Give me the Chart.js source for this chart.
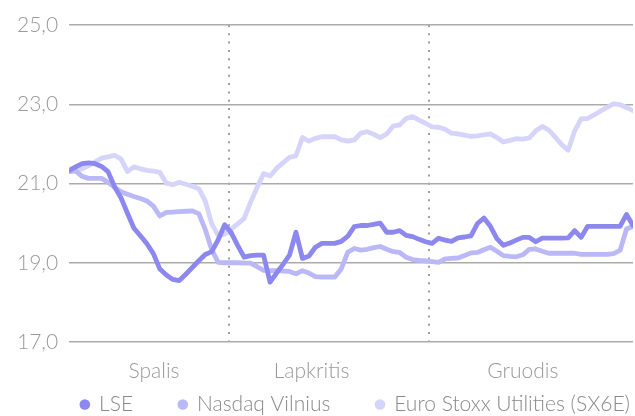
<!DOCTYPE html>
<html>
<head>
<meta charset="utf-8">
<script src="https://cdn.jsdelivr.net/npm/chart.js@4/dist/chart.umd.min.js"></script>
<style>
  html, body { margin: 0; padding: 0; background: #ffffff; }
  #wrap { width: 635px; height: 416px; position: relative; }
</style>
</head>
<body>
<div id="wrap"><canvas id="c"></canvas></div>
<script>
// Series values (one point per trading day)
const lse = [21.33,21.42,21.50,21.52,21.50,21.43,21.30,20.92,20.64,20.25,19.87,19.68,19.48,19.23,18.84,18.69,18.58,18.55,18.71,18.88,19.05,19.21,19.28,19.58,19.96,19.76,19.44,19.14,19.18,19.19,19.19,18.51,18.74,18.96,19.19,19.77,19.11,19.17,19.39,19.49,19.49,19.49,19.54,19.67,19.91,19.94,19.94,19.97,20.00,19.77,19.77,19.81,19.69,19.66,19.59,19.53,19.49,19.62,19.57,19.54,19.63,19.65,19.68,19.99,20.13,19.92,19.61,19.44,19.50,19.57,19.64,19.64,19.53,19.62,19.62,19.62,19.62,19.63,19.81,19.64,19.92,19.92,19.92,19.92,19.92,19.92,20.22,19.94];
const nasdaq = [21.30,21.32,21.18,21.13,21.13,21.13,21.03,20.91,20.79,20.73,20.67,20.62,20.56,20.43,20.18,20.27,20.28,20.29,20.30,20.31,20.24,19.84,19.33,19.01,19.00,19.00,19.00,18.99,18.99,18.90,18.81,18.80,18.80,18.79,18.78,18.72,18.80,18.74,18.65,18.64,18.64,18.64,18.85,19.27,19.36,19.32,19.34,19.38,19.41,19.34,19.28,19.26,19.14,19.08,19.06,19.05,19.03,19.01,19.10,19.11,19.12,19.18,19.25,19.26,19.33,19.39,19.29,19.18,19.16,19.15,19.20,19.34,19.35,19.29,19.24,19.24,19.24,19.24,19.24,19.21,19.21,19.21,19.21,19.21,19.23,19.31,19.85,19.92];
const euro = [21.30,21.33,21.37,21.45,21.54,21.64,21.67,21.71,21.62,21.30,21.42,21.37,21.33,21.31,21.28,21.01,20.97,21.03,20.98,20.93,20.87,20.56,19.98,19.69,19.72,19.85,19.98,20.12,20.53,20.90,21.25,21.19,21.38,21.52,21.66,21.70,22.16,22.07,22.14,22.18,22.18,22.18,22.10,22.07,22.10,22.27,22.31,22.24,22.16,22.25,22.45,22.48,22.64,22.69,22.60,22.52,22.43,22.42,22.37,22.27,22.25,22.22,22.19,22.20,22.23,22.25,22.16,22.05,22.09,22.13,22.12,22.15,22.33,22.44,22.35,22.17,21.98,21.84,22.33,22.63,22.64,22.73,22.83,22.92,23.01,22.99,22.92,22.84];

const seriesNames = ['LSE', 'Nasdaq Vilnius', 'Euro Stoxx Utilities (SX6E)'];
const monthLabels = ['Spalis', 'Lapkritis', 'Gruodis'];
// month label positions and month boundaries, in trading-day index units
const monthLabelAt = [13.1, 37.4, 70];
const monthBoundaryAt = [24.6, 55.5];
const yTicks = [17, 19, 21, 23, 25];

const colors = ['#8c88ef', '#bbb8f8', '#d6d4fb'];
const allSeries = [lse, nasdaq, euro];
const lastIndex = lse.length - 1;

const datasets = allSeries.map((s, k) => ({
  label: seriesNames[k],
  data: s.map((v, i) => ({ x: i, y: v })),
  borderColor: colors[k],
  backgroundColor: colors[k],
  borderWidth: 4.8,
  pointRadius: 0,
  pointHoverRadius: 0,
  tension: 0,
  borderJoinStyle: 'round',
  borderCapStyle: 'round',
  fill: false,
  xAxisID: 'x',
  yAxisID: 'y'
}));

const FONT = "'Lato', 'DejaVu Sans', sans-serif";
const GAP = '\u2003\u2003  ';

new Chart(document.getElementById('c'), {
  type: 'line',
  data: { datasets },
  options: {
    responsive: true,
    maintainAspectRatio: false,
    animation: false,
    devicePixelRatio: 1,
    layout: { padding: { top: 25, right: 2, left: 6, bottom: -9 } },
    plugins: {
      tooltip: { enabled: false },
      legend: {
        position: 'bottom',
        align: 'end',
        labels: {
          usePointStyle: true,
          pointStyle: 'circle',
          boxWidth: 7.5,
          boxHeight: 7.5,
          padding: 3,
          color: '#8a8a8a',
          font: { family: FONT, size: 21, weight: '300' },
          generateLabels: (chart) => {
            const items = Chart.defaults.plugins.legend.labels.generateLabels(chart);
            items.forEach((it, i) => {
              it.lineWidth = 0;
              it.strokeStyle = 'rgba(0,0,0,0)';
              if (i < items.length - 1) it.text = it.text + GAP;
            });
            return items;
          }
        }
      }
    },
    scales: {
      x: {
        type: 'linear',
        min: 0,
        max: lastIndex,
        position: 'bottom',
        afterBuildTicks: (scale) => { scale.ticks = monthLabelAt.map(v => ({ value: v })); },
        afterFit: (scale) => { scale.height = 49; },
        ticks: {
          autoSkip: false,
          maxRotation: 0,
          padding: 17,
          color: '#9a9a9a',
          font: { family: FONT, size: 21, weight: '300' },
          callback: (value, index) => monthLabels[index]
        },
        grid: { display: false, drawTicks: false },
        border: { display: false }
      },
      xs: {
        type: 'linear',
        min: 0,
        max: lastIndex,
        position: 'bottom',
        afterBuildTicks: (scale) => { scale.ticks = monthBoundaryAt.map(v => ({ value: v })); },
        afterFit: (scale) => { scale.height = 0; },
        ticks: { display: false },
        grid: { display: true, drawTicks: false, color: '#a0a0a0', lineWidth: 2 },
        border: { display: false, dash: [2, 6.3] }
      },
      y: {
        type: 'linear',
        min: 17,
        max: 25,
        afterBuildTicks: (scale) => { scale.ticks = yTicks.map(v => ({ value: v })); },
        ticks: {
          padding: 11,
          color: '#9a9a9a',
          font: { family: FONT, size: 21, weight: '300' },
          callback: (v) => v.toFixed(1).replace('.', ',')
        },
        grid: { color: '#ababab', lineWidth: 1.5, drawTicks: false },
        border: { display: false }
      }
    }
  }
});
</script>
</body>
</html>
